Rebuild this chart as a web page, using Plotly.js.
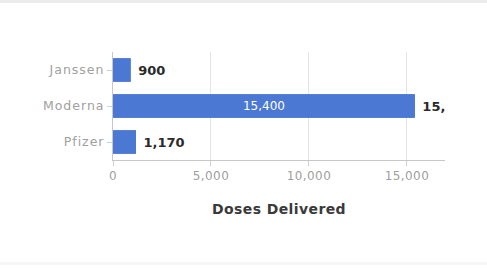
<!DOCTYPE html>
<html><head><meta charset="utf-8">
<script src="https://cdn.plot.ly/plotly-3.0.1.min.js"></script>
<style>
html,body{margin:0;padding:0;background:#fff;}
#wrap{position:absolute;left:0;top:0;width:487px;height:268px;box-sizing:border-box;border-top:3px solid #ececec;}
#bot{position:absolute;left:0;top:262px;width:487px;height:3px;background:#f6f6f6;}
#chart{position:absolute;left:0;top:0;width:487px;height:268px;}
#chart .ytick text{letter-spacing:1px;}
#chart .xtick text{letter-spacing:0.4px;}
#chart .xtitle{letter-spacing:0.4px;}
</style></head>
<body>
<div id="wrap"></div>
<div id="bot"></div>
<div id="chart"></div>
<script>
const manufacturers = ["Pfizer", "Moderna", "Janssen"];
const doses = [1170, 15400, 900];
const outsideLabels = ["1,170", "15,400", "900"];
const insideLabels = ["", "15,400", ""];
const tickVals = [0, 5000, 10000, 15000];
const tickText = ["0", "5,000", "10,000", "15,000"];

const barColor = "#4a78d2";
const F = "DejaVu Sans";
const traces = [
  {type:"bar", orientation:"h", y:manufacturers, x:doses, text:outsideLabels,
   texttemplate:"\u00a0%{text}",
   textposition:"outside", cliponaxis:true, constraintext:"none",
   textfont:{family:F, size:13, color:"#2a2a2a", weight:"bold"},
   marker:{color:barColor}, hoverinfo:"none"},
  {type:"bar", orientation:"h", y:manufacturers, x:doses, text:insideLabels,
   textposition:"inside", insidetextanchor:"middle", constraintext:"none",
   textfont:{family:F, size:12, color:"#ffffff"},
   marker:{color:barColor}, hoverinfo:"none"}
];
const layout = {
  width:487, height:268,
  margin:{l:113, r:42, t:52, b:108},
  paper_bgcolor:"rgba(0,0,0,0)", plot_bgcolor:"rgba(0,0,0,0)",
  barmode:"overlay", bargap:0.35, showlegend:false,
  font:{family:F, color:"#888"},
  xaxis:{range:[0,16940], tickvals:tickVals, ticktext:tickText,
    tickfont:{family:F, size:12, color:"#a0a0a0"}, showgrid:true, gridcolor:"#e4e4e4",
    zeroline:false, showline:true, linecolor:"#c8c8c8", ticks:"outside", ticklen:5, tickcolor:"#d0d0d0",
    title:{text:"Doses Delivered", font:{family:F, size:14, color:"#3a3a3a", weight:"bold"}, standoff:21}},
  yaxis:{tickfont:{family:F, size:12.5, color:"#a0a0a0"}, showline:true, linecolor:"#c8c8c8",
    ticks:"outside", ticklen:5, tickcolor:"#d0d0d0", showgrid:false}
};
Plotly.newPlot("chart", traces, layout, {displayModeBar:false, staticPlot:true});
</script>
</body></html>
